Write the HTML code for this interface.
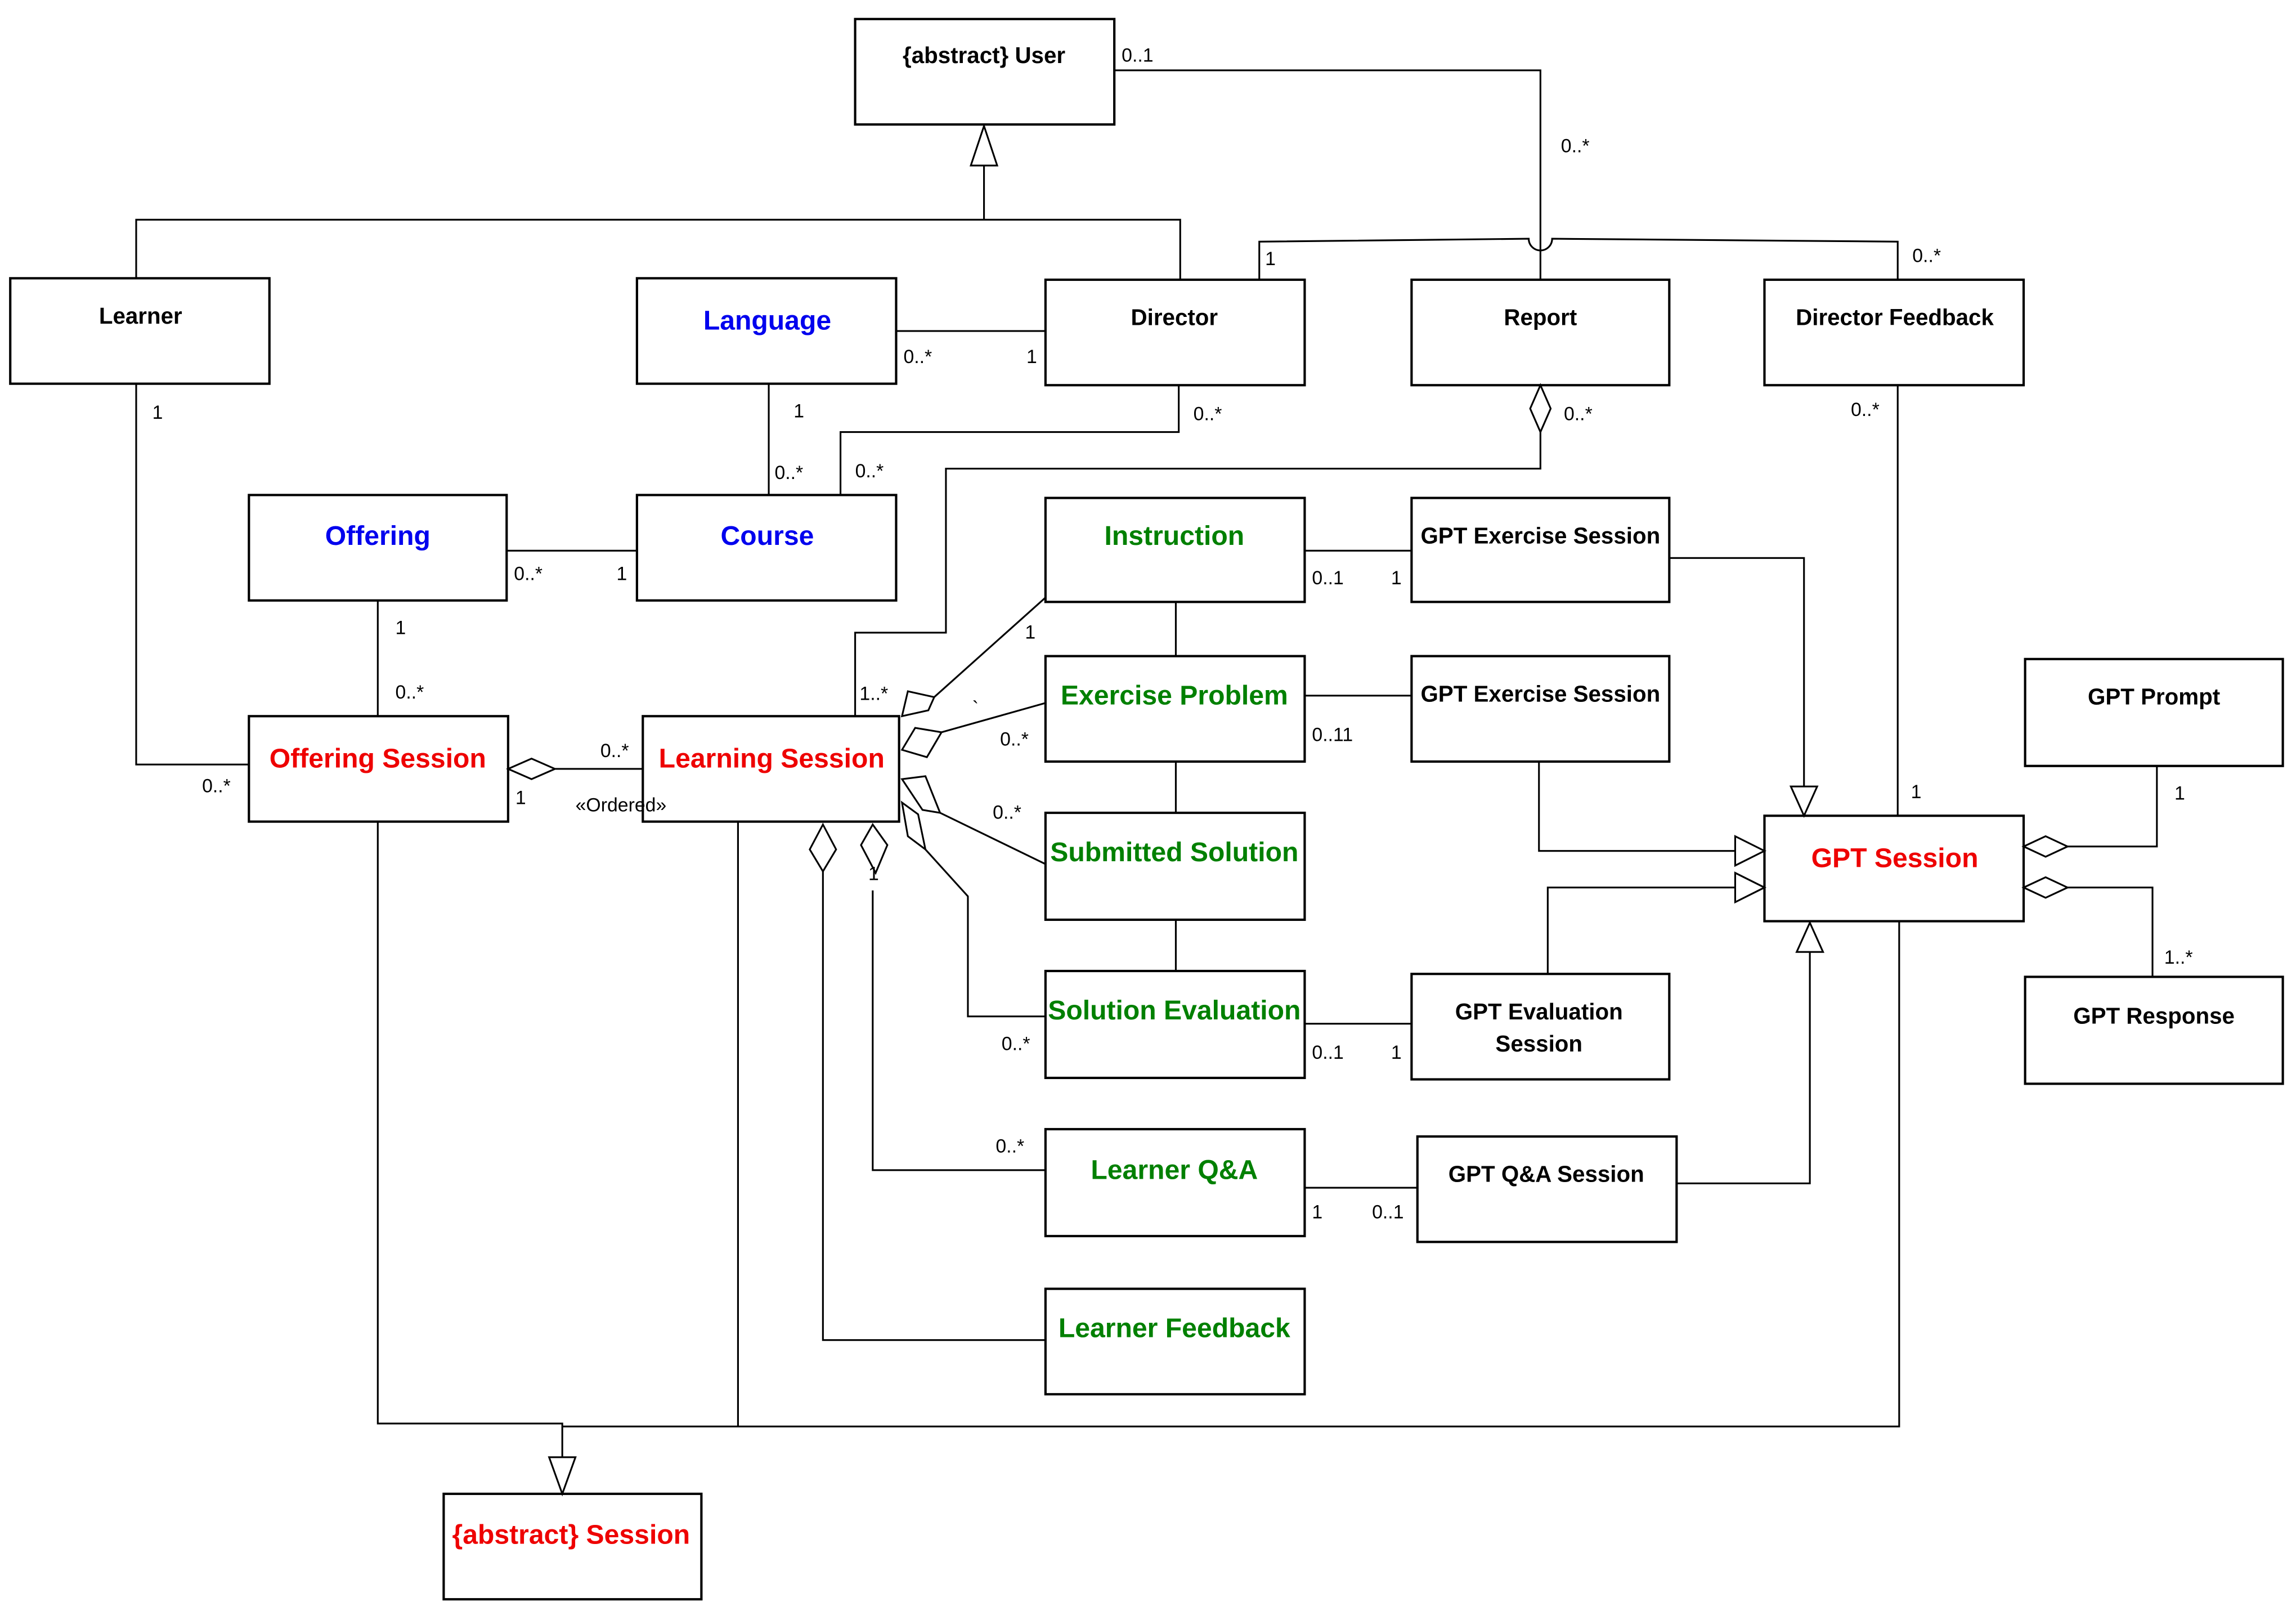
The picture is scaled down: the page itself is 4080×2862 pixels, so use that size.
<!DOCTYPE html>
<html><head><meta charset="utf-8"><style>
html,body{margin:0;padding:0;background:#fff;}
svg{display:block;}
text{font-family:"Liberation Sans",sans-serif;}
.b{font-weight:bold;font-size:15.5px;fill:#000;text-anchor:middle;}
.c{font-weight:bold;font-size:18.5px;text-anchor:middle;}
.m{font-size:13px;fill:#000;}
</style></head><body>
<svg width="4080" height="2862" viewBox="0 0 1568 1100" preserveAspectRatio="none" xmlns="http://www.w3.org/2000/svg">
<g fill="#fff" stroke="#000" stroke-width="1.6">
<rect x="584" y="13" width="177" height="72"/>
<rect x="7" y="190" width="177" height="72"/>
<rect x="435" y="190" width="177" height="72"/>
<rect x="714" y="191" width="177" height="72"/>
<rect x="964" y="191" width="176" height="72"/>
<rect x="1205" y="191" width="177" height="72"/>
<rect x="170" y="338" width="176" height="72"/>
<rect x="435" y="338" width="177" height="72"/>
<rect x="714" y="340" width="177" height="71"/>
<rect x="964" y="340" width="176" height="71"/>
<rect x="714" y="448" width="177" height="72"/>
<rect x="964" y="448" width="176" height="72"/>
<rect x="1383" y="450" width="176" height="73"/>
<rect x="170" y="489" width="177" height="72"/>
<rect x="439" y="489" width="175" height="72"/>
<rect x="714" y="555" width="177" height="73"/>
<rect x="1205" y="557" width="177" height="72"/>
<rect x="714" y="663" width="177" height="73"/>
<rect x="964" y="665" width="176" height="72"/>
<rect x="1383" y="667" width="176" height="73"/>
<rect x="714" y="771" width="177" height="73"/>
<rect x="968" y="776" width="177" height="72"/>
<rect x="714" y="880" width="177" height="72"/>
<rect x="303" y="1020" width="176" height="72"/>
</g>
<g fill="none" stroke="#000" stroke-width="1.2">
<polyline points="672,113 672,150"/>
<polyline points="93,190 93,150 806,150 806,191"/>
<polyline points="761,48 1052,48 1052,191"/>
<path d="M860,191 V165 L1044,163 A8,8 0 0 0 1060,163 L1296,165 V191"/>
<line x1="612" y1="226" x2="714" y2="226"/>
<line x1="525" y1="262" x2="525" y2="338"/>
<polyline points="805,263 805,295 574,295 574,338"/>
<polyline points="1052,295 1052,320 646,320 646,432 584,432 584,489"/>
<line x1="346" y1="376" x2="435" y2="376"/>
<line x1="258" y1="410" x2="258" y2="489"/>
<polyline points="93,262 93,522 170,522"/>
<line x1="379" y1="525" x2="439" y2="525"/>
<line x1="638" y1="476" x2="714" y2="408"/>
<line x1="643" y1="500" x2="714" y2="480"/>
<line x1="642" y1="555" x2="714" y2="590"/>
<polyline points="632,580 661,612 661,694 714,694"/>
<polyline points="596,608 596,799 714,799"/>
<polyline points="562,595 562,915 714,915"/>
<line x1="803" y1="411" x2="803" y2="448"/>
<line x1="803" y1="520" x2="803" y2="555"/>
<line x1="803" y1="628" x2="803" y2="663"/>
<line x1="891" y1="376" x2="964" y2="376"/>
<line x1="891" y1="475" x2="964" y2="475"/>
<line x1="891" y1="699" x2="964" y2="699"/>
<line x1="891" y1="811" x2="968" y2="811"/>
<polyline points="1140,381 1232,381 1232,537"/>
<polyline points="1051,520 1051,581 1185,581"/>
<polyline points="1057,665 1057,606 1185,606"/>
<polyline points="1145,808 1236,808 1236,650"/>
<line x1="1296" y1="263" x2="1296" y2="557"/>
<polyline points="1412,578 1473,578 1473,523"/>
<polyline points="1412,606 1470,606 1470,667"/>
<polyline points="258,561 258,972 384,972 384,995"/>
<line x1="504" y1="561" x2="504" y2="974"/>
<polyline points="384,974 1297,974 1297,629"/>
</g>
<g fill="#fff" stroke="#000" stroke-width="1.2">
<polygon points="672,86 663,113 681,113"/>
<polygon points="384,1020 375,995 393,995"/>
<polygon points="1232,557 1223,537 1241,537"/>
<polygon points="1236,630 1227,650 1245,650"/>
<polygon points="1205,581 1185,571 1185,591"/>
<polygon points="1205,606 1185,596 1185,616"/>
<polygon points="1052,263 1045,279 1052,295 1059,279"/>
<polygon points="347,525 363,518 379,525 363,532"/>
<polygon points="1382,578 1397,571 1412,578 1397,585"/>
<polygon points="1382,606 1397,599 1412,606 1397,613"/>
<polygon points="616,489 620,472 638,476 634,485"/>
<polygon points="616,512 625,497 643,500 633,517"/>
<polygon points="616,532 632,530 642,555 630,553"/>
<polygon points="616,548 627,556 632,580 620,571"/>
<polygon points="596,563 606,577 598,596 588,577"/>
<polygon points="562,563 571,580 562,595 553,580"/>
</g>
<g>
<text class="b" x="672" y="43">{abstract} User</text>
<text class="b" x="96" y="221">Learner</text>
<text class="c" x="524" y="225" fill="#0000ee">Language</text>
<text class="b" x="802" y="222">Director</text>
<text class="b" x="1052" y="222">Report</text>
<text class="b" x="1294" y="222">Director Feedback</text>
<text class="c" x="258" y="372" fill="#0000ee">Offering</text>
<text class="c" x="524" y="372" fill="#0000ee">Course</text>
<text class="c" x="802" y="372" fill="#008000">Instruction</text>
<text class="b" x="1052" y="371">GPT Exercise Session</text>
<text class="c" x="802" y="481" fill="#008000">Exercise Problem</text>
<text class="b" x="1052" y="479">GPT Exercise Session</text>
<text class="b" x="1471" y="481">GPT Prompt</text>
<text class="c" x="258" y="524" fill="#ee0000">Offering Session</text>
<text class="c" x="527" y="524" fill="#ee0000">Learning Session</text>
<text class="c" x="802" y="588" fill="#008000">Submitted Solution</text>
<text class="c" x="1294" y="592" fill="#ee0000">GPT Session</text>
<text class="c" x="802" y="696" fill="#008000">Solution Evaluation</text>
<text class="b" x="1051" y="696">GPT Evaluation</text>
<text class="b" x="1051" y="718">Session</text>
<text class="b" x="1471" y="699">GPT Response</text>
<text class="c" x="802" y="805" fill="#008000">Learner Q&amp;A</text>
<text class="b" x="1056" y="807">GPT Q&amp;A Session</text>
<text class="c" x="802" y="913" fill="#008000">Learner Feedback</text>
<text class="c" x="390" y="1054" fill="#ee0000">{abstract} Session</text>
</g>
<g class="m">
<text class="m" x="766" y="42">0..1</text>
<text class="m" x="1066" y="104">0..*</text>
<text class="m" x="864" y="181">1</text>
<text class="m" x="1306" y="179">0..*</text>
<text class="m" x="617" y="248">0..*</text>
<text class="m" x="701" y="248">1</text>
<text class="m" x="542" y="285">1</text>
<text class="m" x="529" y="327">0..*</text>
<text class="m" x="815" y="287">0..*</text>
<text class="m" x="584" y="326">0..*</text>
<text class="m" x="1068" y="287">0..*</text>
<text class="m" x="587" y="478">1..*</text>
<text class="m" x="351" y="396">0..*</text>
<text class="m" x="421" y="396">1</text>
<text class="m" x="270" y="433">1</text>
<text class="m" x="270" y="477">0..*</text>
<text class="m" x="104" y="286">1</text>
<text class="m" x="138" y="541">0..*</text>
<text class="m" x="410" y="517">0..*</text>
<text class="m" x="352" y="549">1</text>
<text class="m" x="393" y="554">«Ordered»</text>
<text class="m" x="700" y="436">1</text>
<text class="m" x="683" y="509">0..*</text>
<text class="m" x="664" y="488">`</text>
<text class="m" x="678" y="559">0..*</text>
<text class="m" x="684" y="717">0..*</text>
<text class="m" x="593" y="601">1</text>
<text class="m" x="680" y="787">0..*</text>
<text class="m" x="896" y="399">0..1</text>
<text class="m" x="950" y="399">1</text>
<text class="m" x="896" y="506">0..11</text>
<text class="m" x="896" y="723">0..1</text>
<text class="m" x="950" y="723">1</text>
<text class="m" x="896" y="832">1</text>
<text class="m" x="937" y="832">0..1</text>
<text class="m" x="1264" y="284">0..*</text>
<text class="m" x="1305" y="545">1</text>
<text class="m" x="1485" y="546">1</text>
<text class="m" x="1478" y="658">1..*</text>
</g>
</svg>
</body></html>
